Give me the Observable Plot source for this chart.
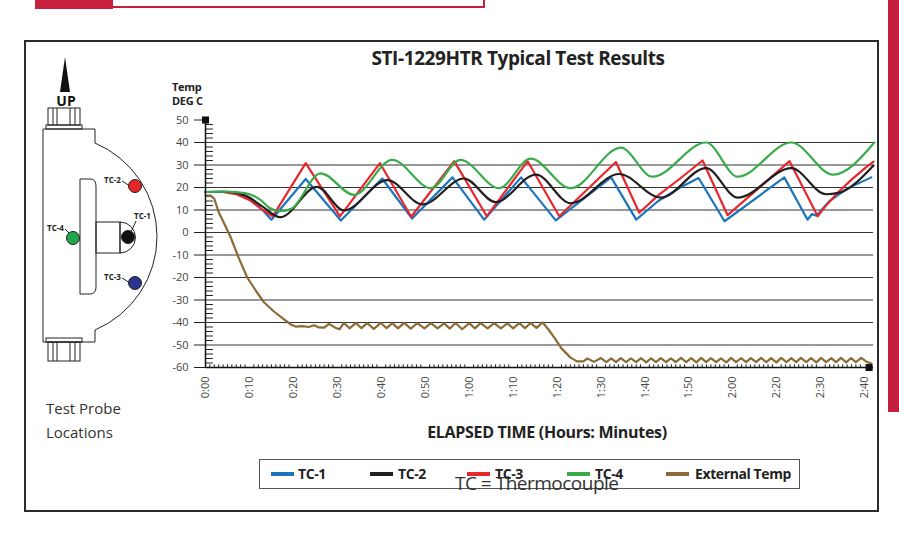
<!DOCTYPE html>
<html><head><meta charset="utf-8">
<script src="https://cdn.jsdelivr.net/npm/d3@7"></script>
<script src="https://cdn.jsdelivr.net/npm/@observablehq/plot@0.6"></script>
<style>
html,body{margin:0;padding:0;background:#fff;}
#page{position:relative;width:899px;height:539px;overflow:hidden;font-family:"Open Sans",sans-serif;color:#333;}
.abs{position:absolute;}
#legend{position:absolute;left:259px;top:459px;width:541px;height:30px;border:1.5px solid #555;box-sizing:border-box;}
#legend .sw{position:absolute;top:12px;width:23px;height:4px;}
#legend .lt{position:absolute;top:0;height:27px;line-height:27px;font-weight:700;font-size:14px;color:#222;white-space:nowrap;letter-spacing:-0.4px;}
</style></head><body>
<div id="page">
  <div class="abs" style="left:35px;top:-2px;width:450px;height:10px;border:2px solid #c8203c;box-sizing:border-box;"></div>
  <div class="abs" style="left:35px;top:0;width:78px;height:9px;background:#c8203c;"></div>
  <div class="abs" style="left:888px;top:0;width:11px;height:412px;background:#c41f3e;"></div>
  <div class="abs" style="left:24px;top:40px;width:855px;height:472px;border:2.5px solid #2b2b2b;box-sizing:border-box;"></div>

  <svg class="abs" style="left:0;top:0" width="200" height="539" viewBox="0 0 200 539">
    <polygon points="65,57 60,92 70,92" fill="#111"/>
    <text x="66" y="106" text-anchor="middle" font-family="Open Sans" font-weight="700" font-size="14" fill="#111">UP</text>
    <g fill="none" stroke="#222" stroke-width="1">
      <rect x="48" y="108" width="32" height="17"/>
      <line x1="53" y1="108" x2="53" y2="125"/><line x1="57" y1="108" x2="57" y2="125"/>
      <line x1="70" y1="108" x2="70" y2="125"/><line x1="75" y1="108" x2="75" y2="125"/>
      <rect x="46" y="125" width="36" height="4"/>
      <path d="M43,129 H95 V143 A101.5,101.5 0 0 1 95,330 V342 H43 Z"/>
      <rect x="46" y="338" width="36" height="4"/>
      <rect x="48" y="342" width="32" height="19"/>
      <line x1="53" y1="342" x2="53" y2="361"/><line x1="57" y1="342" x2="57" y2="361"/>
      <line x1="70" y1="342" x2="70" y2="361"/><line x1="75" y1="342" x2="75" y2="361"/>
      <path d="M80,179 H90 Q96,179 96,186 V287 Q96,294 90,294 H80 Z"/>
      <rect x="96" y="222" width="24" height="31"/>
      <path d="M120,222 A15.5,15.5 0 0 1 120,253 Z"/>
      <line x1="122" y1="181" x2="130" y2="186"/>
      <line x1="136" y1="221" x2="131" y2="232"/>
      <line x1="65" y1="229" x2="70" y2="234"/>
      <line x1="122" y1="278" x2="130" y2="283"/>
    </g>
    <circle cx="128" cy="237" r="6.5" fill="#111" stroke="#222"/>
    <circle cx="135" cy="186" r="6.5" fill="#e52528" stroke="#222"/>
    <circle cx="135" cy="283" r="6.5" fill="#2a3591" stroke="#222"/>
    <circle cx="73" cy="238" r="6.5" fill="#1fa84a" stroke="#222"/>
    <g font-family="Open Sans" font-weight="700" font-size="8" fill="#222">
      <text x="104" y="183">TC-2</text>
      <text x="134" y="219">TC-1</text>
      <text x="47" y="231">TC-4</text>
      <text x="104" y="280">TC-3</text>
    </g>
    <text x="46" y="414" font-family="Open Sans" font-size="15" fill="#333">Test Probe</text>
    <text x="46" y="438" font-family="Open Sans" font-size="15" fill="#333">Locations</text>
  </svg>

  <div class="abs" style="left:518px;top:46px;transform:translateX(-50%);font-weight:700;font-size:19px;line-height:24px;color:#222;white-space:nowrap;letter-spacing:-0.4px;">STI-1229HTR Typical Test Results</div>
  <div class="abs" style="left:172px;top:80px;font-weight:700;font-size:11px;line-height:14px;color:#222;letter-spacing:-0.3px;">Temp<br>DEG C</div>
  <div id="chart" class="abs" style="left:150px;top:80px;"></div>
  <div class="abs" style="left:547px;top:421px;transform:translateX(-50%);font-weight:700;font-size:16px;line-height:22px;color:#222;white-space:nowrap;letter-spacing:-0.3px;">ELAPSED TIME (Hours: Minutes)</div>
  <div id="legend"></div>
  <div class="abs" style="left:455px;top:471px;font-size:19px;line-height:24px;color:#333;white-space:nowrap;letter-spacing:-0.5px;">TC = Thermocouple</div>
</div>
<script>
const seriesNames = ["TC-1", "TC-2", "TC-3", "TC-4", "External Temp"];
const seriesColors = ["#1c75bc", "#231f20", "#e8262d", "#3aab4b", "#8d6b36"];
const legendSwatchX = [11, 110, 207, 307, 406];
const legendTextX = [38, 138, 235, 335, 435];

const xTickValues = [0, 10, 20, 30, 40, 50, 60, 70, 80, 90, 100, 110, 120, 130, 140, 150];
const xTickLabels = ["0:00","0:10","0:20","0:30","0:40","0:50","1:00","1:10","1:20","1:30","1:40","1:50","2:00","2:20","2:30","2:40"];
const yTickValues = [50, 40, 30, 20, 10, 0, -10, -20, -30, -40, -50, -60];
const gridValues = [40, 30, 20, 10, 0, -10, -20, -30, -40, -50];
const axisEnds = [{t: 0, v: 50}, {t: 151, v: -60}];

// [elapsed minutes (axis position), deg C]
const tc1 = [[0,18],[4,18.2],[7,17.5],[10,15],[13,10],[15,5.7],[22.8,23.8],[30.8,5.3],[40.2,24],[47,6.2],[56.2,24.5],[63.4,5.7],[71.8,24.5],[79.7,5.4],[92.3,24.5],[98,5.7],[103,14],[108,20],[112.2,24.2],[118.1,5],[131.7,24.5],[137,5.7],[138,8.2],[139,7.5],[142,14],[146,19.5],[151.5,24.5]];
const tc2 = [[0,18],[5,18],[9,16.5],[13,11.5],[17,6.8],[25.4,20.3],[31.5,9.8],[41.4,23.3],[49.4,12.5],[58.8,24],[66,13.5],[75.2,25.7],[83.1,13],[94.1,26],[103.6,15.5],[113.9,28.6],[121.1,15.5],[133.3,28.6],[141.2,17],[144,17.6],[152,29.8]];
const tc3 = [[0,18],[4,18],[7,17],[10,14.5],[13,10],[15.3,7.2],[22.8,30.8],[30.6,7.2],[39.7,30.8],[46.8,7],[56.6,31.7],[64,7.2],[73.3,31.7],[80.5,7.2],[93.4,31.3],[98.7,8.8],[103,16.5],[108,24],[113.1,32],[118.8,7.7],[132.9,31.7],[139.3,7.2],[141,11.5],[144,18],[147,23.5],[150,28.5],[152,31.5]];
const tc4 = [[0,18],[5,18.2],[9,17.5],[12.5,14.5],[14.5,11],[17,9.5],[19.5,10.5],[26.2,26.3],[33.8,16.7],[42.5,32.3],[51.3,19.7],[58,32.3],[66.8,19.7],[74,32.8],[83.1,19.7],[94.5,37.7],[101.7,24.8],[113.9,40],[121.1,24.8],[133.3,40],[142.8,25.7],[152.2,40]];
const extTemp = [[0,16.4],[1.2,16.4],[2,15],[3,9],[4.5,3],[5.7,-2],[7.5,-11],[9.5,-20],[11.5,-26],[13.3,-31],[15.5,-35],[17.8,-38.5],[19.5,-41],[20.5,-41.8],[22,-41.6],[23.5,-42],[24.7,-41.2],[25.8,-42.2],[27,-42.3],[28.1,-40.6],[29.5,-42.3],[30.5,-43],[31.5,-40.2],[32.8,-42.6],[34.2,-40.2],[35.5,-42.5],[36.8,-40.3],[38.3,-42.8],[39.9,-40.2],[41.2,-42.5],[42.5,-40.3],[43.8,-42.6],[45.2,-40.2],[46.7,-42.7],[48.2,-40.3],[49.8,-42.6],[51.3,-40.3],[52.8,-42.6],[54.3,-40.4],[55.6,-42.7],[56.9,-40.2],[58.4,-43],[60,-40.3],[61.3,-42.6],[62.6,-40.3],[64.2,-42.6],[65.7,-40.3],[67.2,-42.6],[68.7,-40.4],[70,-42.6],[71.4,-40.3],[72.7,-42.5],[74,-40.2],[75.3,-42.4],[76.7,-40],[78,-43],[79.3,-46.5],[81,-51.5],[83,-55.5],[84.5,-57.3],[86,-57.3],[86.9,-56],[88.4,-57.5],[90,-55.8],[91.2,-57.6],[92.3,-55.9],[93.4,-57.6],[94.5,-55.8],[95.7,-57.6],[96.8,-55.9],[98,-57.6],[99.1,-55.8],[100.3,-57.7],[101.4,-55.9],[102.5,-57.6],[103.6,-55.8],[104.8,-57.6],[105.9,-55.9],[107,-57.6],[108.2,-55.7],[109.4,-57.6],[110.5,-55.8],[111.7,-57.7],[112.8,-55.7],[113.9,-57.6],[115,-55.8],[116.2,-57.6],[117.3,-55.9],[118.5,-57.7],[119.6,-55.7],[120.7,-57.6],[121.9,-55.8],[123,-57.6],[124.1,-55.8],[125.3,-57.6],[126.4,-55.7],[127.6,-57.6],[128.7,-55.8],[129.9,-57.7],[131,-55.7],[132.2,-57.6],[133.3,-55.8],[134.4,-57.6],[135.5,-55.7],[136.7,-57.6],[137.8,-55.8],[139,-57.7],[140.1,-55.7],[141.2,-57.6],[142.4,-55.8],[143.5,-57.6],[144.6,-55.7],[145.8,-57.7],[146.9,-55.8],[148,-57.6],[149.2,-55.7],[150.3,-57.3],[151.5,-58.2]];

const seriesData = [tc1, tc2, tc3, tc4, extTemp];
const seriesCurves = ["linear", "monotone-x", "linear", "monotone-x", "linear"];

const toRows = (arr, i) => arr.map(([t, v]) => ({t, v, s: seriesNames[i]}));
const yMinor = d3.range(-58, 50, 2).filter(v => v % 10 !== 0);
const xMinor = d3.range(1, 152, 1).filter(v => v % 10 !== 0);

const lineMarks = [0, 2, 1, 3, 4].map(i =>
  Plot.line(toRows(seriesData[i], i), {x: "t", y: "v", stroke: seriesColors[i], strokeWidth: 2.2, curve: seriesCurves[i]})
);

const chart = Plot.plot({
  width: 740, height: 330,
  marginLeft: 55, marginRight: 17, marginTop: 39.5, marginBottom: 43,
  x: {domain: [0, 152]},
  y: {domain: [-60, 50]},
  style: {fontFamily: "Open Sans", fontSize: "11px", color: "#444", background: "transparent", overflow: "visible"},
  marks: [
    Plot.ruleY(gridValues, {x1: 0, x2: 152, stroke: "#333", strokeWidth: 1}),
    Plot.ruleY(yMinor, {x1: 0, x2: 1.8, stroke: "#222", strokeWidth: 1}),
    Plot.ruleX(xMinor, {y1: -60, y2: -58.8, stroke: "#222", strokeWidth: 1}),
    Plot.axisY({ticks: yTickValues, tickSize: 11, tickPadding: 6, tickFormat: d => String(d), label: null, stroke: "#222", fill: "#444"}),
    Plot.axisX({ticks: xTickValues, tickFormat: d => xTickLabels[xTickValues.indexOf(d)], tickRotate: -90, tickSize: 0, tickPadding: 9, label: null, fill: "#444"}),
    ...lineMarks,
    Plot.ruleX([0], {y1: -60, y2: 50, stroke: "#111", strokeWidth: 1.5}),
    Plot.ruleY([-60], {x1: 0, x2: 152, stroke: "#111", strokeWidth: 1.5}),
    Plot.dot(axisEnds, {x: "t", y: "v", symbol: "square", r: 4, fill: "#111"})
  ]
});
document.getElementById("chart").appendChild(chart);

const legend = document.getElementById("legend");
seriesNames.forEach((name, i) => {
  const sw = document.createElement("div");
  sw.className = "sw";
  sw.style.left = legendSwatchX[i] + "px";
  sw.style.background = seriesColors[i];
  legend.appendChild(sw);
  const t = document.createElement("div");
  t.className = "lt";
  t.style.left = legendTextX[i] + "px";
  t.textContent = name;
  legend.appendChild(t);
});
</script>
</body></html>
